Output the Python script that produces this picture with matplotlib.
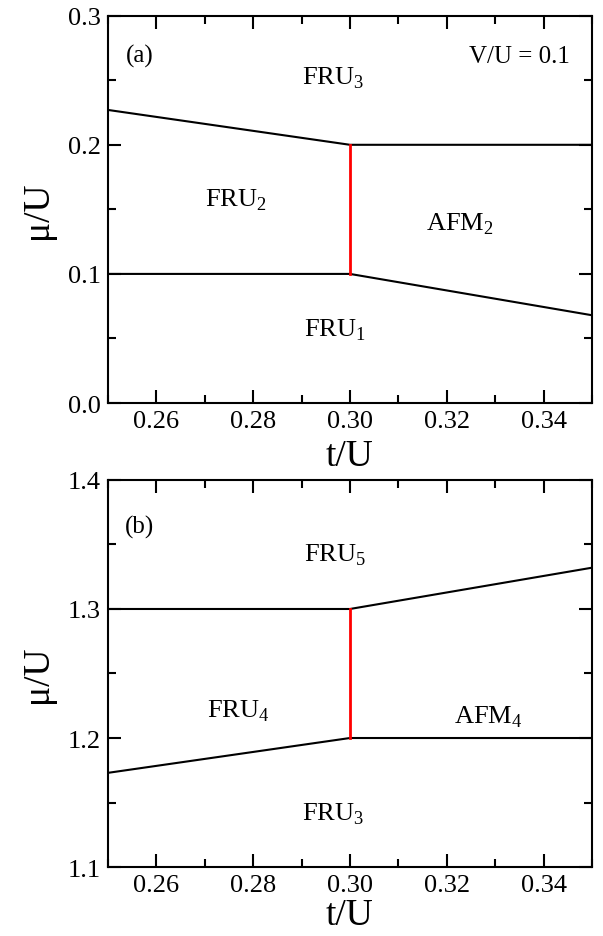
import matplotlib
matplotlib.use("Agg")
import matplotlib.pyplot as plt
from matplotlib.ticker import MultipleLocator

plt.rcParams['font.family'] = ['Liberation Serif', 'DejaVu Serif']
plt.rcParams['mathtext.fontset'] = 'custom'
plt.rcParams['mathtext.rm'] = 'Liberation Serif'

# panel (a), V/U = 0.1
t_a = [0.25, 0.30, 0.35]
upper_a = [0.227, 0.200, 0.200]
lower_a = [0.100, 0.100, 0.068]
red_a = [0.100, 0.200]

# panel (b)
t_b = [0.25, 0.30, 0.35]
upper_b = [1.300, 1.300, 1.332]
lower_b = [1.173, 1.200, 1.200]
red_b = [1.200, 1.300]

t_red = [0.30, 0.30]

labels_a = [('FRU$_\\mathrm{3}$', 0.2965, 0.2525), ('FRU$_\\mathrm{2}$', 0.2764, 0.158),
            ('AFM$_\\mathrm{2}$', 0.3227, 0.139), ('FRU$_\\mathrm{1}$', 0.2969, 0.057)]
labels_b = [('FRU$_\\mathrm{5}$', 0.2969, 1.3428), ('FRU$_\\mathrm{4}$', 0.2769, 1.2214),
            ('AFM$_\\mathrm{4}$', 0.3285, 1.2168), ('FRU$_\\mathrm{3}$', 0.2965, 1.1418)]

fig = plt.figure(figsize=(6.03, 9.37), dpi=100)
ax1 = fig.add_axes([0.179, 0.5688, 0.8027, 0.4134])
ax2 = fig.add_axes([0.179, 0.0736, 0.8027, 0.4131])


def style(ax, ylo, yhi, xpad):
    ax.set_xlim(0.25, 0.35)
    ax.set_ylim(ylo, yhi)
    ax.xaxis.set_minor_locator(MultipleLocator(0.01))
    ax.yaxis.set_minor_locator(MultipleLocator(0.05))
    ax.set_xticks([0.26, 0.28, 0.30, 0.32, 0.34])
    ax.set_xticklabels(['0.26', '0.28', '0.30', '0.32', '0.34'])
    ax.tick_params(which='both', direction='in', top=True, right=True, width=1.5)
    ax.tick_params(which='major', length=9.5, labelsize=19, pad=5)
    ax.tick_params(which='minor', length=5.5)
    for s in ax.spines.values():
        s.set_linewidth(1.5)
    ax.set_xlabel('t/U', fontsize=27, labelpad=xpad)
    ax.set_ylabel('μ/U', fontsize=27, labelpad=9)


ax1.plot(t_a, upper_a, color='black', lw=1.5)
ax1.plot(t_a, lower_a, color='black', lw=1.5)
ax1.plot(t_red, red_a, color='#ff0000', lw=2)
style(ax1, 0.0, 0.3, 5)
ax1.set_yticks([0.0, 0.1, 0.2, 0.3])
ax1.set_yticklabels(['0.0', '0.1', '0.2', '0.3'])
for txt, x, y in labels_a:
    ax1.text(x, y, txt, fontsize=19, ha='center', va='center')
ax1.text(0.2566, 0.269, '(a)', fontsize=18, ha='center', va='center')
ax1.text(0.335, 0.269, 'V/U = 0.1', fontsize=18, ha='center', va='center')

ax2.plot(t_b, upper_b, color='black', lw=1.5)
ax2.plot(t_b, lower_b, color='black', lw=1.5)
ax2.plot(t_red, red_b, color='#ff0000', lw=2)
style(ax2, 1.1, 1.4, 1)
ax2.set_yticks([1.1, 1.2, 1.3, 1.4])
ax2.set_yticklabels(['1.1', '1.2', '1.3', '1.4'])
for txt, x, y in labels_b:
    ax2.text(x, y, txt, fontsize=19, ha='center', va='center')
ax2.text(0.2566, 1.364, '(b)', fontsize=18, ha='center', va='center')

fig.savefig('out.png', dpi=100)
